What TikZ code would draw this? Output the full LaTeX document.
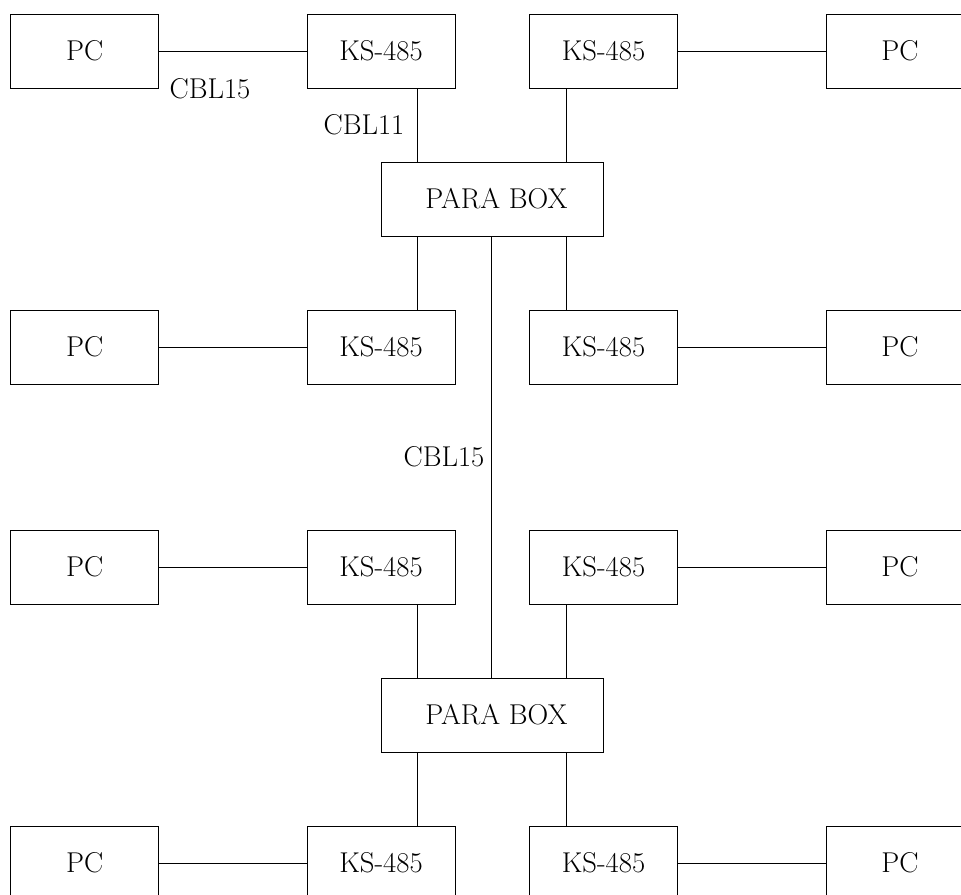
\documentclass[tikz,border=0pt]{standalone}
\usepackage{tikz}
\usetikzlibrary{calc,shapes,positioning}
\tikzstyle{every edge}=[-,draw,line width=0.6pt]
\begin{document}
\begin{tikzpicture}[x=0.75pt,y=-0.75pt]
        \tikzstyle{box}=[draw,line width=0.6pt,minimum width=111pt,
        minimum height=55.5pt,inner sep=0pt,font=\fontsize{21.5}{25}\selectfont]
        \tikzstyle{parabox}=[box,minimum width=166.5pt]
        \tikzstyle{lbl}=[font=\fontsize{21.5}{25}\selectfont,inner sep=0pt]
        \useasboundingbox (0,0) rectangle (961,895);

        % First line:
        \node (pc_11) [box] at (84.7,51) {PC};
        \node (ks_11) [box] at (381,51) {KS-485};
        \node (ks_12) [box] at (603.5,51) {KS-485};
        \node (pc_12) [box] at (900,51) {PC};
        % Upper para box:
        \node (para_1) [parabox] at (492,199) {\ PARA BOX};
        % Second line:
        \node (pc_21) [box] at (84.7,347) {PC};
        \node (ks_21) [box] at (381,347) {KS-485};
        \node (ks_22) [box] at (603.5,347) {KS-485};
        \node (pc_22) [box] at (900,347) {PC};
        % Third line:
        \node (pc_31) [box] at (84.7,567) {PC};
        \node (ks_31) [box] at (381,567) {KS-485};
        \node (ks_32) [box] at (603.5,567) {KS-485};
        \node (pc_32) [box] at (900,567) {PC};
        % Lower para box:
        \node (para_2) [parabox] at (492,715) {\ PARA BOX};
        % Fourth line:
        \node (pc_41) [box] at (84.7,863) {PC};
        \node (ks_41) [box] at (381,863) {KS-485};
        \node (ks_42) [box] at (603.5,863) {KS-485};
        \node (pc_42) [box] at (900,863) {PC};

        % cable columns
        \coordinate (lx) at (417,0);
        \coordinate (mx) at (491,0);
        \coordinate (rx) at (566,0);

        \path
        (pc_11) edge (ks_11)
        (ks_12) edge (pc_12)
        (pc_21) edge (ks_21)
        (ks_22) edge (pc_22)
        (pc_31) edge (ks_31)
        (ks_32) edge (pc_32)
        (pc_41) edge (ks_41)
        (ks_42) edge (pc_42);

        \path
        (ks_11.south -| lx) edge (para_1.north -| lx)
        (ks_12.south -| rx) edge (para_1.north -| rx)
        (para_1.south -| lx) edge (ks_21.north -| lx)
        (para_1.south -| rx) edge (ks_22.north -| rx)
        (para_1.south -| mx) edge (para_2.north -| mx)
        (ks_31.south -| lx) edge (para_2.north -| lx)
        (ks_32.south -| rx) edge (para_2.north -| rx)
        (para_2.south -| lx) edge (ks_41.north -| lx)
        (para_2.south -| rx) edge (ks_42.north -| rx);

        \node (cbl_a) [lbl] at (210,89) {CBL15};
        \node (cbl_b) [lbl] at (364,125) {CBL11};
        \node (cbl_c) [lbl] at (444,457) {CBL15};
\end{tikzpicture}
\end{document}
